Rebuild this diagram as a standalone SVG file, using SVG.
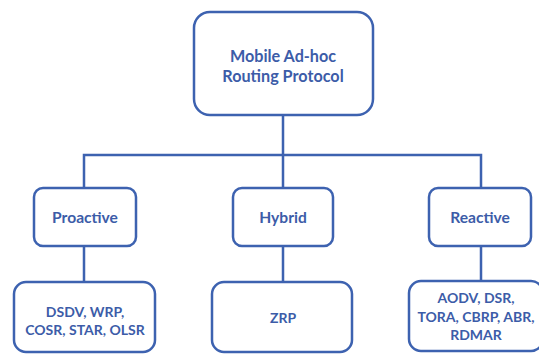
<svg xmlns="http://www.w3.org/2000/svg" width="539" height="354" viewBox="0 0 539 354">
  <style>
    .box { fill: #ffffff; stroke: #3d62b0; stroke-width: 2.5; }
    .wire { fill: none; stroke: #3d62b0; stroke-width: 2.5; }
    .lbl { font-family: Lato, "Liberation Sans", sans-serif; font-weight: 700; fill: #3c5ca8; text-anchor: middle; }
    .big { font-size: 16.2px; }
    .mid { font-size: 15.6px; }
    .sm { font-size: 14px; }
  </style>
  <rect width="539" height="354" fill="#ffffff"/>

  <!-- tree connectors -->
  <g id="connectors">
    <path class="wire" d="M283 115 V155 M84 188 V155 H481 V188 M283 155 V188"/>
    <path class="wire" d="M84 246 V282 M283 246 V282 M481 246 V282"/>
  </g>

  <g id="root">
    <rect class="box" x="194" y="12" width="179" height="103" rx="16"/>
    <text class="lbl big" x="283" y="62">Mobile Ad-hoc</text>
    <text class="lbl big" x="283" y="82">Routing Protocol</text>
  </g>

  <g id="proactive">
    <rect class="box" x="34" y="188" width="102" height="58" rx="9"/>
    <text class="lbl mid" x="85" y="223">Proactive</text>
  </g>
  <g id="hybrid">
    <rect class="box" x="233" y="188" width="100" height="58" rx="9"/>
    <text class="lbl mid" x="283" y="223">Hybrid</text>
  </g>
  <g id="reactive">
    <rect class="box" x="429" y="188" width="102" height="58" rx="9"/>
    <text class="lbl mid" x="480" y="223">Reactive</text>
  </g>

  <g id="proactive-protocols">
    <rect class="box" x="14" y="282" width="141" height="70" rx="12"/>
    <text class="lbl sm" x="85" y="317">DSDV, WRP,</text>
    <text class="lbl sm" x="85" y="335">COSR, STAR, OLSR</text>
  </g>
  <g id="hybrid-protocols">
    <rect class="box" x="212" y="282" width="140" height="70" rx="12"/>
    <text class="lbl sm" x="283" y="323">ZRP</text>
  </g>
  <g id="reactive-protocols">
    <rect class="box" x="409" y="281" width="134" height="70" rx="12"/>
    <text class="lbl sm" x="476" y="303">AODV, DSR,</text>
    <text class="lbl sm" x="476" y="322">TORA, CBRP, ABR,</text>
    <text class="lbl sm" x="476" y="340">RDMAR</text>
  </g>
</svg>
